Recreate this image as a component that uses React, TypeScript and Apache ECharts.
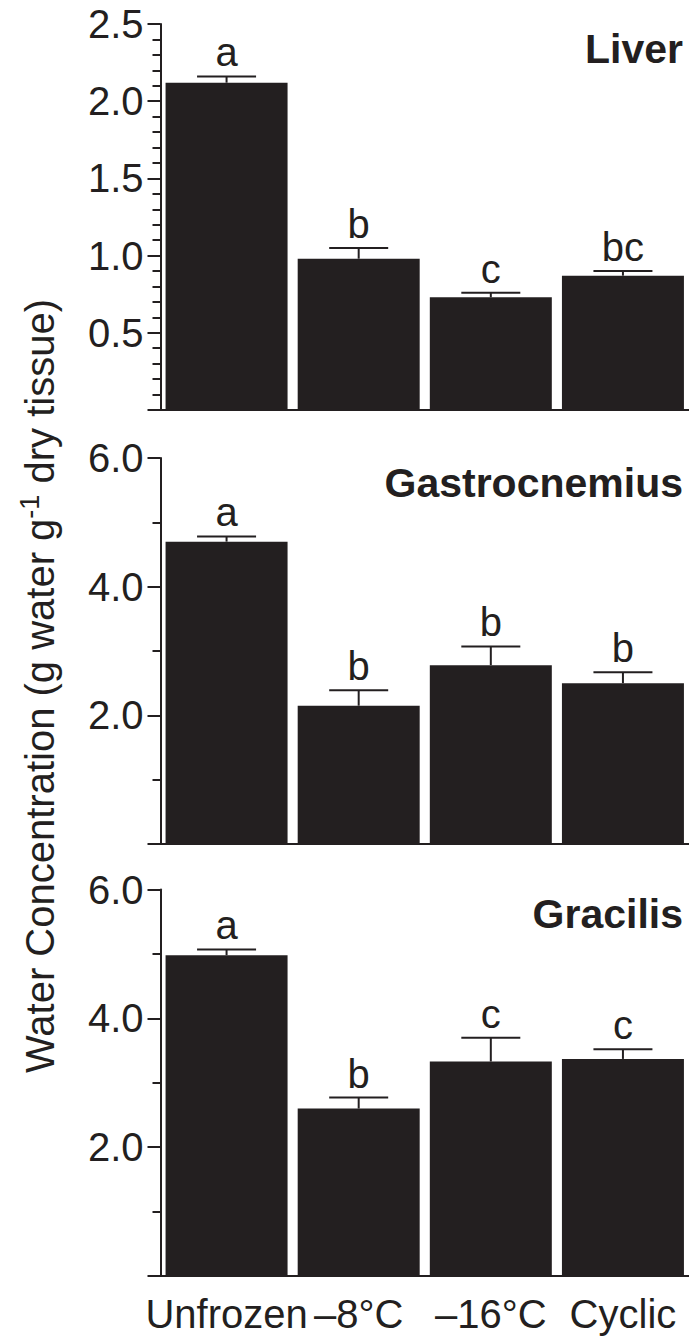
import React, { useEffect, useRef } from "react";
import * as echarts from "echarts";

const categories = ["Unfrozen", "–8°C", "–16°C", "Cyclic"];

const liverMeans = [2.12, 0.98, 0.73, 0.87];
const liverErrors = [0.04, 0.07, 0.03, 0.03];
const liverLetters = ["a", "b", "c", "bc"];

const gastroMeans = [4.7, 2.15, 2.78, 2.5];
const gastroErrors = [0.08, 0.24, 0.29, 0.17];
const gastroLetters = ["a", "b", "b", "b"];

const gracilisMeans = [4.98, 2.6, 3.33, 3.37];
const gracilisErrors = [0.09, 0.17, 0.37, 0.15];
const gracilisLetters = ["a", "b", "c", "c"];

const panelTitles = ["Liver", "Gastrocnemius", "Gracilis"];
const yMax = [2.5, 6, 6];
const yInterval = [0.5, 2, 2];
const yMinorSplit = [5, 2, 2];

const INK = "#231f20";
const FONT = "'Liberation Sans', Arial, Helvetica, sans-serif";

export default function App() {
  const ref = useRef<HTMLDivElement>(null);
  useEffect(() => {
    if (!ref.current) return;
    const chart = echarts.init(ref.current, null, { renderer: "svg" });
    const panels = [
      { means: liverMeans, errors: liverErrors, letters: liverLetters },
      { means: gastroMeans, errors: gastroErrors, letters: gastroLetters },
      { means: gracilisMeans, errors: gracilisErrors, letters: gracilisLetters },
    ];
    const tops = [24, 458, 889.5];
    const heights = [386, 386, 386.5];

    const grids = tops.map((t, i) => ({ left: 160.5, top: t, width: 532, height: heights[i] }));
    const xAxes = tops.map((_, i) => ({
      type: "category",
      gridIndex: i,
      data: categories,
      axisLine: { lineStyle: { color: INK, width: 2 } },
      axisTick: { alignWithLabel: true, length: 13, lineStyle: { color: INK, width: 2 } },
      axisLabel: {
        show: i === 2,
        interval: 0,
        color: INK,
        fontSize: 40,
        fontFamily: FONT,
        margin: 18,
      },
    }));
    const yAxes = tops.map((_, i) => ({
      type: "value",
      gridIndex: i,
      min: 0,
      max: yMax[i],
      interval: yInterval[i],
      splitLine: { show: false },
      axisLine: { show: true, lineStyle: { color: INK, width: 2 } },
      axisTick: { show: true, length: 13, lineStyle: { color: INK, width: 2 } },
      minorTick: { show: true, splitNumber: yMinorSplit[i], length: 8, lineStyle: { color: INK, width: 2 } },
      axisLabel: {
        color: INK,
        fontSize: 40,
        fontFamily: FONT,
        margin: 17,
        formatter: (v: number) => (v === 0 ? "" : v.toFixed(1)),
      },
    }));

    const series: any[] = [];
    panels.forEach((p, i) => {
      series.push({
        type: "bar",
        xAxisIndex: i,
        yAxisIndex: i,
        data: p.means,
        barWidth: 122,
        itemStyle: { color: INK },
      });
      series.push({
        type: "custom",
        xAxisIndex: i,
        yAxisIndex: i,
        data: p.means.map((m, k) => [k, m, p.errors[k]]),
        encode: { x: 0, y: 1 },
        z: 5,
        renderItem: (params: any, api: any) => {
          const k = api.value(0);
          const m = api.value(1);
          const e = api.value(2);
          const base = api.coord([k, m]);
          const top = api.coord([k, m + e]);
          const half = 29.5;
          return {
            type: "group",
            children: [
              {
                type: "line",
                shape: { x1: base[0], y1: base[1], x2: top[0], y2: top[1] },
                style: { stroke: INK, lineWidth: 2 },
              },
              {
                type: "line",
                shape: { x1: top[0] - half, y1: top[1], x2: top[0] + half, y2: top[1] },
                style: { stroke: INK, lineWidth: 2 },
              },
              {
                type: "text",
                x: top[0],
                y: top[1] - 4,
                style: {
                  text: p.letters[params.dataIndex],
                  textAlign: "center",
                  textVerticalAlign: "bottom",
                  font: `40px ${FONT}`,
                  fill: INK,
                },
              },
            ],
          };
        },
      });
    });

    const graphics: any[] = panelTitles.map((t, i) => ({
      type: "text",
      right: 6,
      top: tops[i] + 4,
      style: {
        text: t,
        font: `bold 41px ${FONT}`,
        fill: INK,
      },
    }));
    graphics.push({
      type: "text",
      x: 40,
      y: 686,
      rotation: Math.PI / 2,
      style: {
        text: "Water Concentration (g water g{sup|-1} dry tissue)",
        font: `40px ${FONT}`,
        fill: INK,
        textAlign: "center",
        textVerticalAlign: "middle",
        rich: {
          sup: { fontSize: 27, fontFamily: FONT, fill: INK, padding: [0, 0, 20, 0] },
        },
      },
    });

    chart.setOption({
      animation: false,
      backgroundColor: "#ffffff",
      grid: grids,
      xAxis: xAxes,
      yAxis: yAxes,
      series,
      graphic: graphics,
    });
    return () => chart.dispose();
  }, []);
  return (
    <div
      ref={ref}
      style={{ position: "absolute", left: 0, top: 0, width: 689, height: 1339 }}
    />
  );
}
